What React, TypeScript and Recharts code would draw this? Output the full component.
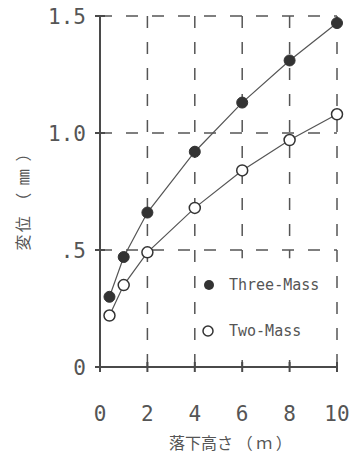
import { LineChart, Line, XAxis, YAxis, CartesianGrid, ReferenceArea, Legend } from 'recharts'

// drop height (m)
const heights = [0.4, 1, 2, 4, 6, 8, 10]
// displacement (mm)
const threeMass = [0.3, 0.47, 0.66, 0.92, 1.13, 1.31, 1.47]
const twoMass = [0.22, 0.35, 0.49, 0.68, 0.84, 0.97, 1.08]

const xTicks = [0, 2, 4, 6, 8, 10]
const yTicks = [0, 0.5, 1, 1.5]
const yTickLabels = ['0', '.5', '1.0', '1.5']

const rows = heights.map((h, i) => ({ h, three: threeMass[i], two: twoMass[i] }))

const ink = '#4a4a4a'
const mono = '"DejaVu Sans Mono", monospace'
const cjk = '"Noto Sans CJK JP", sans-serif'

const XTick = (p: any) => (
  <g>
    <line x1={p.x} x2={p.x} y1={p.y - 5} y2={p.y + 5} stroke={ink} strokeWidth={2} />
    <text x={p.x} y={p.y + 47} textAnchor="middle" dominantBaseline="central" fontFamily={mono} fontSize={21} fill="#555">
      {p.payload.value}
    </text>
  </g>
)

const YTick = (p: any) => (
  <g>
    <line x1={p.x - 5} x2={p.x + 5} y1={p.y} y2={p.y} stroke={ink} strokeWidth={2} />
    <text x={p.x - 14} y={p.y + 1} textAnchor="end" dominantBaseline="central" fontFamily={mono} fontSize={21} fill="#555">
      {yTickLabels[yTicks.indexOf(p.payload.value)]}
    </text>
  </g>
)

const LegendBox = () => (
  <svg width={140} height={80}>
    <circle cx={11} cy={15} r={5} fill="#333" />
    <text x={31} y={15} dominantBaseline="central" fontFamily={mono} fontSize={15} fill="#555">Three-Mass</text>
    <circle cx={10} cy={61} r={5} fill="#fff" stroke="#333" strokeWidth={1.5} />
    <text x={31} y={61} dominantBaseline="central" fontFamily={mono} fontSize={15} fill="#555">Two-Mass</text>
  </svg>
)

export default function App() {
  return (
    <div style={{ position: 'absolute', left: 0, top: 0, background: '#fff' }}>
      <LineChart width={354} height={454} data={rows} margin={{ top: 16, right: 17, bottom: 0, left: 0 }}>
        <CartesianGrid stroke="#555" strokeWidth={1.5} strokeDasharray="12 14" />
        {/* blank patch behind the legend, as in the original */}
        <ReferenceArea x1={4.25} x2={9.8} y1={0.03} y2={0.465} fill="#fff" fillOpacity={1} stroke="none" />
        <XAxis
          dataKey="h"
          type="number"
          domain={[0, 10]}
          ticks={xTicks}
          height={87}
          tickSize={0}
          tickMargin={0}
          tick={<XTick />}
          axisLine={{ stroke: ink, strokeWidth: 2 }}
          tickLine={false}
          label={{
            content: (lp: any) => (
              <text x={lp.viewBox.x + lp.viewBox.width / 2 + 12} y={442} textAnchor="middle" dominantBaseline="central" fontFamily={cjk} fontSize={16} fill="#555">
                落下高さ （ ｍ ）
              </text>
            ),
          }}
        />
        <YAxis
          type="number"
          domain={[0, 1.5]}
          ticks={yTicks}
          width={100}
          tickSize={0}
          tickMargin={0}
          tick={<YTick />}
          axisLine={{ stroke: ink, strokeWidth: 2 }}
          tickLine={false}
          label={{
            content: () => (
              <text x={22} y={197} transform="rotate(-90 22 197)" textAnchor="middle" dominantBaseline="central" fontFamily={cjk} fontSize={16} letterSpacing={2} fill="#555">
                変位 （ ㎜ ）
              </text>
            ),
          }}
        />
        <Legend layout="horizontal" verticalAlign="middle" align="center" content={<LegendBox />} wrapperStyle={{ left: 198, top: 270, width: 140 }} />
        <Line dataKey="three" stroke="#555" strokeWidth={1.2} isAnimationActive={false} dot={{ r: 5.5, fill: '#333', stroke: '#333', strokeWidth: 1 }} />
        <Line dataKey="two" stroke="#555" strokeWidth={1.2} isAnimationActive={false} dot={{ r: 5.5, fill: '#fff', stroke: '#333', strokeWidth: 1.5 }} />
      </LineChart>
    </div>
  )
}
